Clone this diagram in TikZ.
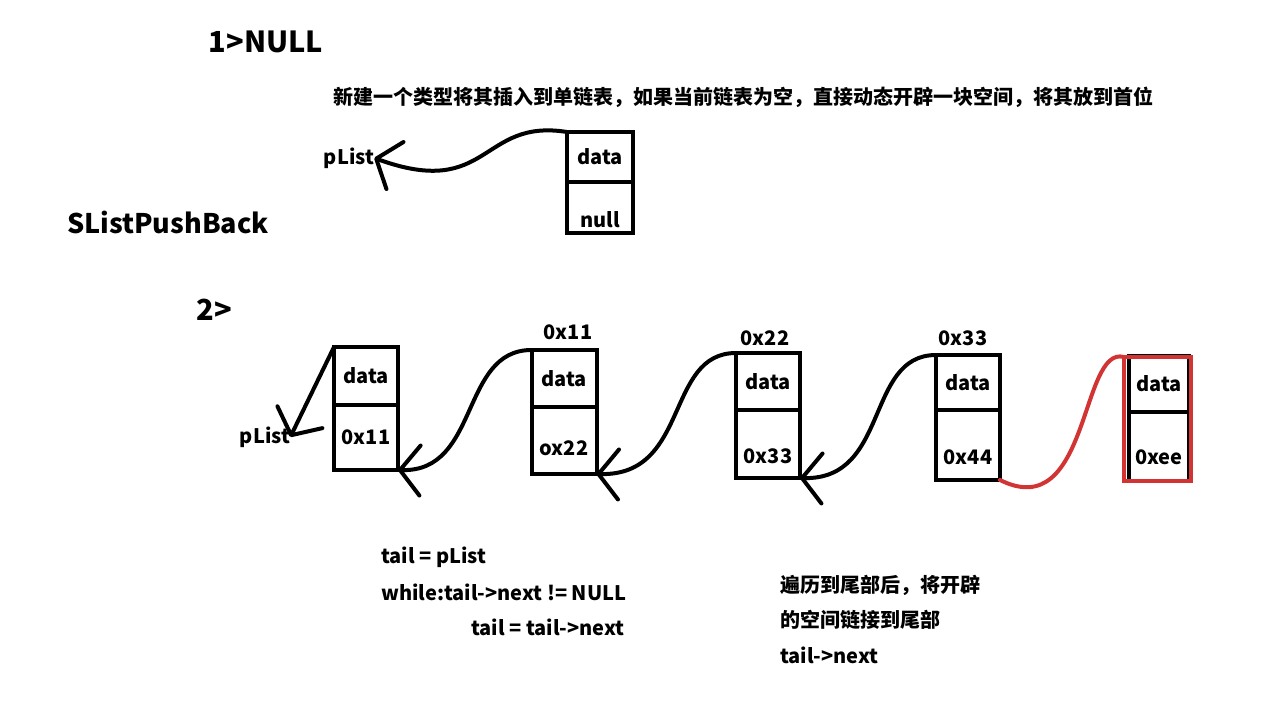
\documentclass[tikz,border=0pt]{standalone}
\usepackage{fontspec}
\setmainfont{Noto Sans CJK SC}
\usepackage{tikz}
\usetikzlibrary{positioning,arrows.meta}
\definecolor{penred}{RGB}{210,52,52}

\begin{document}
\begin{tikzpicture}[x=1pt,y=-1pt,
  lbl/.style={font=\bfseries\fontsize{20}{24}\selectfont,inner sep=0pt},
  title/.style={font=\bfseries\fontsize{29}{35}\selectfont,inner sep=0pt},
  cell/.style={lbl,draw=black,line width=4pt,minimum width=64pt,outer sep=0pt},
  link/.style={draw=black,line width=4pt,line cap=round,-{Straight Barb[round,length=20pt,width=50pt]}},
  redlink/.style={draw=penred,line width=4pt,line cap=round}]
\useasboundingbox (0,0) rectangle (1270,701);
\path[fill=white] (0,0) rectangle (1270,701);
% headings:
\node[title] (case1) at (266,42) {1>NULL};
\node[title,font=\bfseries\fontsize{27}{33}\selectfont] (fname) at (168,222) {SListPushBack};
\node[title] (case2) at (214,310) {2>};
\node[lbl,anchor=west] (note1) at (333,97) {新建一个类型将其插入到单链表，如果当前链表为空，直接动态开辟一块空间，将其放到首位};
% case 1: empty list
\node[lbl] (pl1) at (349,158) {pList};
\node[cell,anchor=north,minimum width=66pt,minimum height=50pt] (t1) at (600,132) {data};
\node[cell,below=0pt of t1,minimum width=66pt,minimum height=51pt,text height=40pt,text depth=0pt] (t2) {null};
\draw[link] (t1.north west) .. controls (480,118) and (490,200) .. (pl1.east);
% case 2: walk to the tail
\node[lbl] (pl2) at (265,437) {pList};
\node[cell,anchor=north,minimum height=58pt] (a1) at (366,347) {data};
\node[cell,below=0pt of a1,minimum height=65pt] (a2) {0x11};
\node[cell,anchor=north,minimum width=65pt,minimum height=57pt] (b1) at (564,350) {data};
\node[cell,below=0pt of b1,minimum width=65pt,minimum height=67pt,text height=30pt,text depth=0pt] (b2) {ox22};
\node[lbl] (b0) at (568,332) {0x11};
\node[cell,anchor=north,minimum height=57pt] (c1) at (768,353) {data};
\node[cell,below=0pt of c1,minimum height=68pt,text height=38pt,text depth=0pt] (c2) {0x33};
\node[lbl] (c0) at (765,338) {0x22};
\node[cell,anchor=north,minimum height=55pt] (d1) at (968,355) {data};
\node[cell,below=0pt of d1,minimum height=70pt,text height=38pt,text depth=0pt] (d2) {0x44};
\node[lbl] (d0) at (963,338) {0x33};
\node[cell,anchor=north,minimum width=60pt,minimum height=56pt] (e1) at (1159,356) {data};
\node[cell,below=0pt of e1,minimum width=60pt,minimum height=69pt,text height=36pt,text depth=0pt] (e2) {0xee};
\draw[redlink] ([xshift=-5pt,yshift=-1pt]e1.north west) rectangle ([xshift=2pt]e2.south east);
% links between the nodes:
\draw[link] (a1.north west) -- (pl2.east);
\draw[link] (b1.north west) .. controls (460,350) and (480,472) .. (a2.south east);
\draw[link] (c1.north west) .. controls (665,353) and (690,476) .. (b2.south east);
\draw[link] (d1.north west) .. controls (865,355) and (890,480) .. (c2.south east);
\draw[redlink] (d2.south east) .. controls (1090,525) and (1080,345) .. ([xshift=-5pt,yshift=-1pt]e1.north west);
% notes:
\node[lbl,anchor=west] (code1) at (381,557) {tail = pList};
\node[lbl,anchor=west] (code2) at (381,592) {while:tail->next != NULL};
\node[lbl,anchor=west] (code3) at (471,627) {tail = tail->next};
\node[lbl,anchor=west] (note2) at (780,585) {遍历到尾部后，将开辟};
\node[lbl,anchor=west] (note3) at (780,620) {的空间链接到尾部};
\node[lbl,anchor=west] (note4) at (780,655) {tail->next};
\end{tikzpicture}
\end{document}
